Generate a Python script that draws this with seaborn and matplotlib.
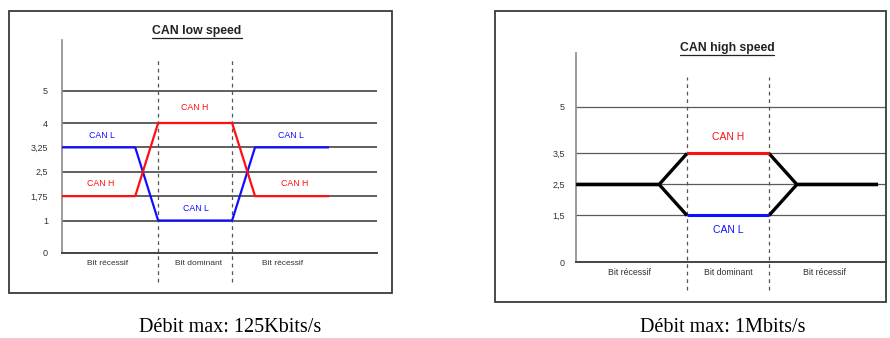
import matplotlib
matplotlib.use("Agg")
import matplotlib.pyplot as plt
from matplotlib.patches import Rectangle
from matplotlib.lines import Line2D
import seaborn as sns
import pandas as pd

sns.set_style("white")
plt.rcParams['font.family'] = ['Liberation Sans', 'DejaVu Sans']

# ---- data ----
low_ticks = [0, 1, 1.75, 2.5, 3.25, 4, 5]
low_ticklabels = ["0", "1", "1,75", "2,5", "3,25", "4", "5"]
low_x = [-1.3, -0.31, 0.0, 1.0, 1.31, 2.31]
low_canh = [1.75, 1.75, 4.0, 4.0, 1.75, 1.75]
low_canl = [3.25, 3.25, 1.0, 1.0, 3.25, 3.25]

high_ticks = [0, 1.5, 2.5, 3.5, 5]
high_ticklabels = ["0", "1,5", "2,5", "3,5", "5"]
high_black_x1 = [-1.35, -0.34, 0.0]
high_black_up1 = [2.5, 2.5, 3.5]
high_black_dn1 = [2.5, 2.5, 1.5]
high_black_x2 = [1.0, 1.34, 2.33]
high_black_up2 = [3.5, 2.5, 2.5]
high_black_dn2 = [1.5, 2.5, 2.5]
high_x = [0.0, 1.0]
high_canh = [3.5, 3.5]
high_canl = [1.5, 1.5]

bit_labels = ["Bit récessif", "Bit dominant", "Bit récessif"]
titles = ["CAN low speed", "CAN high speed"]
captions = ["Débit max: 125Kbits/s", "Débit max: 1Mbits/s"]

W, H = 890, 338
fig = plt.figure(figsize=(W / 100, H / 100), dpi=100)


def px_axes(l, t, r, b):
    return fig.add_axes([l / W, 1 - b / H, (r - l) / W, (b - t) / H])


RED = "#ff1010"
BLUE = "#1010ff"
GRID = "#444444"
TXT = "#333333"


def style_axes(ax, xlim, ylim, ticks, labels, pad, tsize):
    ax.set_xlim(*xlim)
    ax.set_ylim(*ylim)
    ax.set_yticks(ticks)
    ax.set_yticklabels(labels, fontsize=tsize, color=TXT)
    ax.set_xticks([])
    ax.tick_params(axis="y", length=0, pad=pad)
    ax.yaxis.grid(True, color=GRID, linewidth=1.2)
    ax.set_axisbelow(True)
    for s in ["top", "right"]:
        ax.spines[s].set_visible(False)
    ax.spines["left"].set_color("#8a8a8a")
    ax.spines["left"].set_linewidth(1.2)
    ax.spines["bottom"].set_color(GRID)
    ax.spines["bottom"].set_linewidth(1.4)
    ax.set_facecolor("none")
    ax.set_xlabel("")
    ax.set_ylabel("")


def line(ax, xs, ys, color, lw):
    df = pd.DataFrame({"x": xs, "y": ys})
    sns.lineplot(data=df, x="x", y="y", sort=False, estimator=None, ax=ax,
                 color=color, linewidth=lw, solid_capstyle="butt", zorder=5)


# ---- left panel ----
ax1 = px_axes(62, 40, 377, 253)
line(ax1, low_x, low_canl, BLUE, 1.6)
line(ax1, low_x, low_canh, RED, 1.6)
style_axes(ax1, (-1.3, 2.959), (0, 6.554), low_ticks, low_ticklabels, 10, 6.5)
for xv in (0, 1):
    ax1.plot([xv, xv], [-0.89, 5.94], color="#555555", lw=0.9,
             linestyle=(0, (3, 3)), clip_on=False, zorder=3)
for (tx, ty, s, c) in [(-0.76, 3.63, "CAN L", BLUE), (-0.78, 2.15, "CAN H", RED),
                       (0.5, 4.49, "CAN H", RED), (0.51, 1.38, "CAN L", BLUE),
                       (1.80, 3.63, "CAN L", BLUE), (1.85, 2.15, "CAN H", RED)]:
    ax1.text(tx, ty, s, color=c, fontsize=6.3, ha="center", va="center")
for tx, s in zip([-0.68, 0.54, 1.68], bit_labels):
    ax1.text(tx, -0.31, s, color=TXT, fontsize=6, ha="center", va="center",
             clip_on=False)

# ---- right panel ----
ax2 = px_axes(576, 53, 886, 262)
line(ax2, high_black_x1, high_black_up1, "black", 2.4)
line(ax2, high_black_x1, high_black_dn1, "black", 2.4)
line(ax2, high_black_x2, high_black_up2, "black", 2.4)
line(ax2, high_black_x2, high_black_dn2, "black", 2.4)
line(ax2, high_x, high_canh, RED, 2.2)
line(ax2, high_x, high_canl, BLUE, 2.2)
style_axes(ax2, (-1.354, 2.427), (0, 6.74), high_ticks, high_ticklabels, 8, 6.5)
ax2.yaxis.grid(True, color="#5a5a5a", linewidth=0.9)
for xv in (0, 1):
    ax2.plot([xv, xv], [-0.9, 5.97], color="#555555", lw=0.9,
             linestyle=(0, (3, 3)), clip_on=False, zorder=3)
ax2.text(0.5, 4.03, "CAN H", color=RED, fontsize=7.5, ha="center", va="center")
ax2.text(0.5, 1.03, "CAN L", color=BLUE, fontsize=7.5, ha="center", va="center")
for tx, s in zip([-0.7, 0.5, 1.68], bit_labels):
    ax2.text(tx, -0.35, s, color=TXT, fontsize=6.3, ha="center", va="center",
             clip_on=False)

# ---- frames ----
for (l, t, r, b) in [(9, 11, 392, 293), (495, 11, 886, 302)]:
    fig.patches.append(Rectangle((l / W, 1 - b / H), (r - l) / W, (b - t) / H,
                                 transform=fig.transFigure, fill=False,
                                 edgecolor="#3a3a3a", linewidth=1.3))

# ---- titles (underlined) ----
title_texts = []
for (cx, cy), s in zip([(197, 31), (727, 48)], titles):
    t = fig.text(cx / W, 1 - cy / H, s, fontsize=8.8, fontweight="bold",
                 ha="center", va="center", color="#222222")
    title_texts.append(t)
fig.canvas.draw()
r = fig.canvas.get_renderer()
for t in title_texts:
    bb = t.get_window_extent(r)
    yy = bb.y0 - 1.0
    fig.add_artist(Line2D([bb.x0 / W, bb.x1 / W], [yy / H, yy / H],
                          transform=fig.transFigure, color="#222222", lw=0.9))

# ---- captions ----
for cx, s in zip([230, 723], captions):
    fig.text(cx / W, 1 - 332 / H, s, fontsize=14.5, family="Liberation Serif",
             ha="center", va="baseline", color="black")

fig.savefig("out.png", dpi=100)
